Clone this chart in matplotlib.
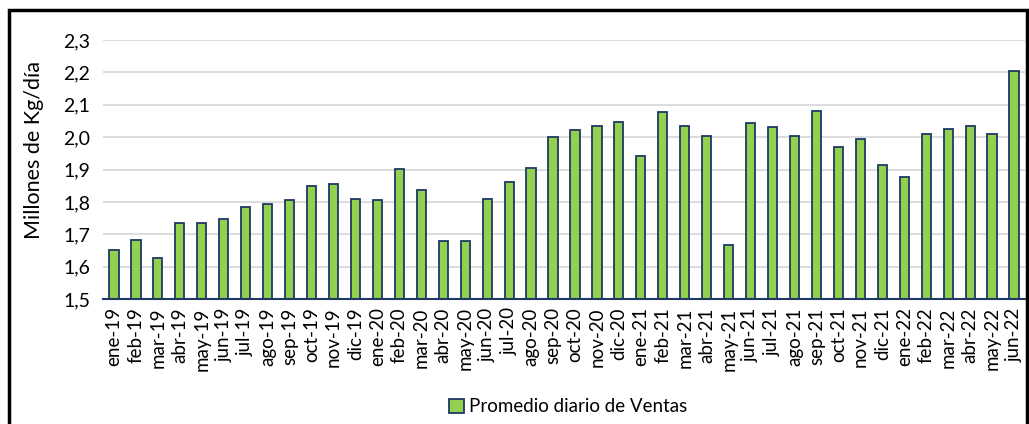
import matplotlib
matplotlib.use("Agg")
import matplotlib.pyplot as plt
from matplotlib.patches import Rectangle
from matplotlib.ticker import FuncFormatter

months = ["ene-19", "feb-19", "mar-19", "abr-19", "may-19", "jun-19", "jul-19", "ago-19",
          "sep-19", "oct-19", "nov-19", "dic-19", "ene-20", "feb-20", "mar-20", "abr-20",
          "may-20", "jun-20", "jul-20", "ago-20", "sep-20", "oct-20", "nov-20", "dic-20",
          "ene-21", "feb-21", "mar-21", "abr-21", "may-21", "jun-21", "jul-21", "ago-21",
          "sep-21", "oct-21", "nov-21", "dic-21", "ene-22", "feb-22", "mar-22", "abr-22",
          "may-22", "jun-22"]
ventas = [1.651, 1.682, 1.627, 1.735, 1.735, 1.747, 1.784, 1.793,
          1.806, 1.849, 1.855, 1.809, 1.806, 1.903, 1.836, 1.679,
          1.679, 1.808, 1.860, 1.904, 2.001, 2.022, 2.034, 2.047,
          1.941, 2.078, 2.034, 2.003, 1.667, 2.045, 2.031, 2.003,
          2.081, 1.970, 1.994, 1.914, 1.877, 2.009, 2.025, 2.033,
          2.009, 2.205]
yticks = [1.5, 1.6, 1.7, 1.8, 1.9, 2.0, 2.1, 2.2, 2.3]

plt.rcParams['font.family'] = ['Lato', 'DejaVu Sans']

W, H = 1029, 424
fig = plt.figure(figsize=(W / 100, H / 100), dpi=100)
ax = fig.add_axes([103 / W, 1 - 299 / H, (1025 - 103) / W, (299 - 40) / H])

x = list(range(len(months)))
ax.bar(x, ventas, width=0.42, color="#92D050", edgecolor="#1F3864", linewidth=1.3,
       label="Promedio diario de Ventas", zorder=3)

ax.set_ylim(1.5, 2.3)
ax.set_yticks(yticks)
ax.yaxis.set_major_formatter(FuncFormatter(lambda v, p: f"{v:.1f}".replace(".", ",")))
ax.set_xlim(-0.5, len(months) - 0.5)
ax.set_xticks(x)
ax.set_xticklabels(months, rotation=90, fontsize=13.5)
ax.tick_params(axis="y", labelsize=14, length=0, pad=9)
ax.tick_params(axis="x", length=0, pad=6)
ax.grid(axis="y", color="#D9D9D9", linewidth=1.3, zorder=0)
for s in ["top", "right", "left"]:
    ax.spines[s].set_visible(False)
ax.spines["bottom"].set_color("#1F3864")
ax.spines["bottom"].set_linewidth(1.5)
ax.spines["bottom"].set_zorder(4)

ax.set_ylabel("Millones de Kg/día", fontsize=15.5)
ax.yaxis.set_label_coords(-0.064, 0.575)

leg = fig.legend(loc="center", bbox_to_anchor=(568 / W, 1 - 407 / H), frameon=False,
                 fontsize=13.5, handlelength=0.8, handleheight=0.8, handletextpad=0.3)

fig.patches.append(Rectangle((9 / W, -0.05), (1027 - 9) / W, 1.05 - 10 / H,
                             transform=fig.transFigure, fill=False,
                             edgecolor="black", linewidth=2.5))

fig.savefig("out.png", dpi=100)
